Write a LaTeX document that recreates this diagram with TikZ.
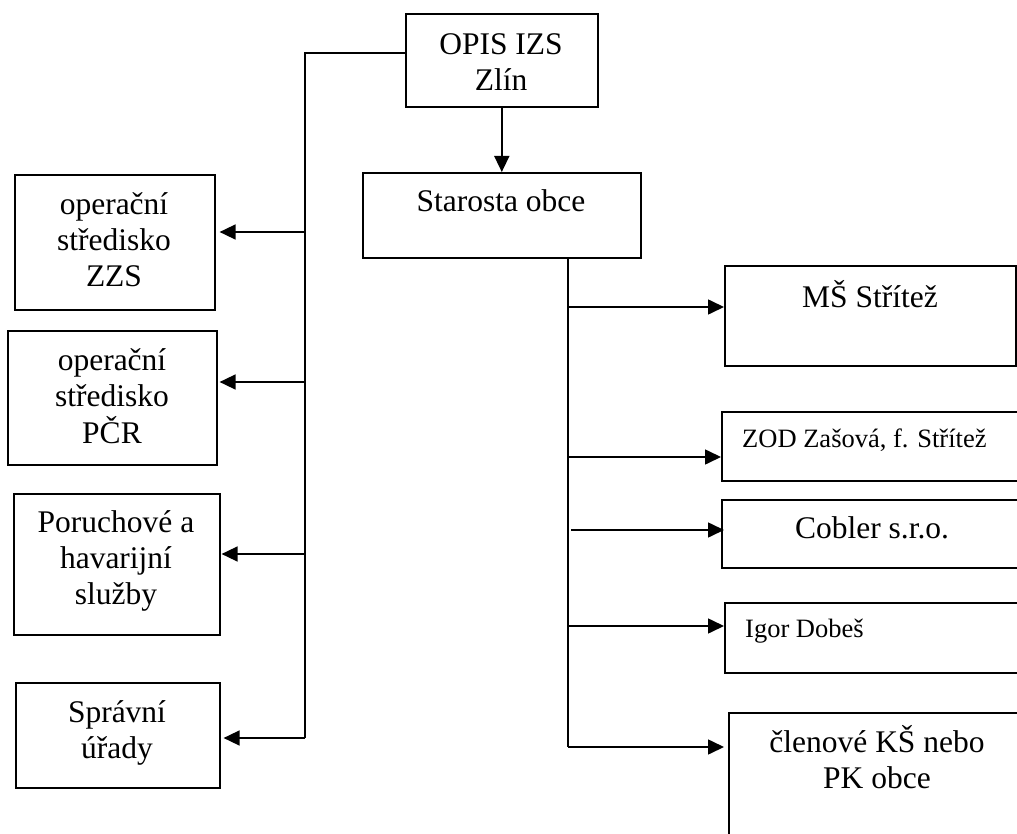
\documentclass[tikz,border=0pt]{standalone}
\usepackage{fontspec}
\setmainfont{Liberation Serif}
\usetikzlibrary{arrows.meta}
\newcommand\mylines[1]{\begin{tabular}[t]{@{}c@{}}#1\end{tabular}}
\begin{document}
\begin{tikzpicture}[x=1pt,y=-1pt,
  box/.style={draw,line width=1.6pt,rectangle,inner sep=0pt,anchor=north west},
  txt/.style={inner sep=0pt,anchor=base,font=\fontsize{31.5}{36}\selectfont},
  small/.style={inner sep=0pt,anchor=base west,font=\fontsize{26.5}{30}\selectfont},
  ln/.style={line width=1.6pt},
  arr/.style={line width=1.6pt,-{Triangle[length=16pt,width=15pt]}}]
\useasboundingbox (0,0) rectangle (1017,834);
\clip (0,0) rectangle (1017,834);
% boxes
\node[box,minimum width=192pt,minimum height=93pt] (opis) at (405,13) {};
\node[box,minimum width=278pt,minimum height=85pt] (star) at (362,172) {};
\node[box,minimum width=200pt,minimum height=135pt] (zzs) at (14,174) {};
\node[box,minimum width=209pt,minimum height=134pt] (pcr) at (7,330) {};
\node[box,minimum width=206pt,minimum height=141pt] (por) at (13,493) {};
\node[box,minimum width=204pt,minimum height=105pt] (spr) at (15,682) {};
\node[box,minimum width=291pt,minimum height=100pt] (ms) at (724,265) {};
\node[box,minimum width=330pt,minimum height=69pt] (zod) at (721,411) {};
\node[box,minimum width=330pt,minimum height=68pt] (cob) at (721,499) {};
\node[box,minimum width=330pt,minimum height=70pt] (igor) at (724,602) {};
\node[box,minimum width=330pt,minimum height=200pt] (cle) at (728,712) {};
% texts
\node[txt] (topis) at (501,55) {\mylines{OPIS IZS\\Zlín}};
\node[txt] (tstar) at (501,212) {Starosta obce};
\node[txt] (tzzs) at (114,215) {\mylines{operační\\středisko\\ZZS}};
\node[txt] (tpcr) at (112,370) {\mylines{operační\\středisko\\PČR}};
\node[txt] (tpor) at (116,532) {\mylines{Poruchové a\\havarijní\\služby}};
\node[txt] (tspr) at (117,722) {\mylines{Správní\\úřady}};
\node[txt] (tms) at (870,307) {MŠ Střítež};
\node[small] (tzod) at (742,447) {ZOD Zašová, f. Střítež};
\node[txt] (tcob) at (872,538) {Cobler s.r.o.};
\node[small] (tigor) at (745,637) {Igor Dobeš};
\node[txt] (tcle) at (877,752) {\mylines{členové KŠ nebo\\PK obce}};
% bus coordinates
\coordinate (lt) at (305,53);
\coordinate (lb) at (305,738);
\coordinate (rb) at (568,747);
\coordinate (l1) at (305,232);
\coordinate (l2) at (305,382);
\coordinate (l3) at (305,554);
\coordinate (r1) at (568,307);
\coordinate (r2) at (568,457);
\coordinate (r3) at (571,530);
\coordinate (r4) at (568,626);
% connectors
\draw[arr] (opis.south) -- (star.north);
\draw[ln] (opis.west |- lt) -- (lt) -- (lb);
\draw[ln] (star.south -| rb) -- (rb);
\draw[arr,shorten >=4pt] (l1) -- (zzs.east |- l1);
\draw[arr,shorten >=2pt] (l2) -- (pcr.east |- l2);
\draw[arr,shorten >=1pt] (l3) -- (por.east |- l3);
\draw[arr,shorten >=3pt] (lb) -- (spr.east |- lb);
\draw[arr] (r1) -- (ms.west |- r1);
\draw[arr] (r2) -- (zod.west |- r2);
\draw[arr,shorten >=-3pt] (r3) -- (cob.west |- r3);
\draw[arr] (r4) -- (igor.west |- r4);
\draw[arr,shorten >=4pt] (rb) -- (cle.west |- rb);
\end{tikzpicture}
\end{document}
